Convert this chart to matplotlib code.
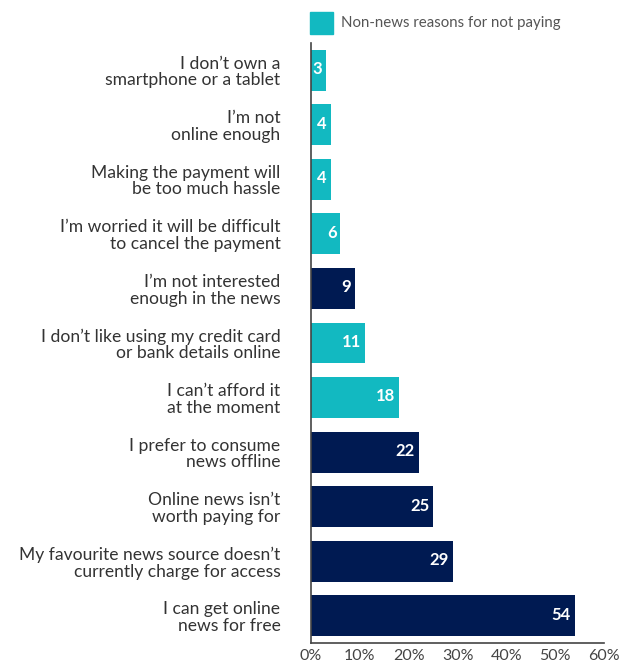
import matplotlib
matplotlib.use("Agg")
import matplotlib.pyplot as plt
from matplotlib.patches import Rectangle

plt.rcParams['font.family'] = ['Lato', 'DejaVu Sans']

# --- data (top to bottom) ---
reasons = [
    "I don\u2019t own a\nsmartphone or a tablet",
    "I\u2019m not\nonline enough",
    "Making the payment will\nbe too much hassle",
    "I\u2019m worried it will be difficult\nto cancel the payment",
    "I\u2019m not interested\nenough in the news",
    "I don\u2019t like using my credit card\nor bank details online",
    "I can\u2019t afford it\nat the moment",
    "I prefer to consume\nnews offline",
    "Online news isn\u2019t\nworth paying for",
    "My favourite news source doesn\u2019t\ncurrently charge for access",
    "I can get online\nnews for free",
]
values = [3, 4, 4, 6, 9, 11, 18, 22, 25, 29, 54]
non_news = [True, True, True, True, False, True, True, False, False, False, False]
ticks = [0, 10, 20, 30, 40, 50, 60]

TEAL = "#12b9c1"
NAVY = "#001a52"

fig = plt.figure(figsize=(6.36, 6.66), dpi=100)
ax = fig.add_axes([0.489, 0.0345, 0.461, 0.901])

n = len(values)
ypos = [n - 1 - i for i in range(n)]
colors = [TEAL if nn else NAVY for nn in non_news]
ax.barh(ypos, values, height=0.75, color=colors, zorder=2)

for y, v in zip(ypos, values):
    ax.text(v - 0.8, y + 0.02, str(v), ha="right", va="center", color="white",
            fontsize=12, fontweight="bold")

ax.set_xlim(0, 60)
ax.set_ylim(-0.5, n - 0.5)
ax.set_yticks(ypos)
ax.set_yticklabels(reasons, fontsize=12.6, color="#333333", linespacing=1.05)
ax.set_xticks(ticks)
ax.set_xticklabels([f"{t}%" for t in ticks], fontsize=11.5, color="#444444")
ax.tick_params(axis="both", length=0)
ax.tick_params(axis="y", pad=22)
ax.tick_params(axis="x", pad=4)

for s in ["top", "right"]:
    ax.spines[s].set_visible(False)
for s in ["left", "bottom"]:
    ax.spines[s].set_color("#444444")
    ax.spines[s].set_linewidth(1.2)

# legend
fig.patches.append(Rectangle((310 / 636, 1 - 34 / 666), 23 / 636, 22 / 666,
                             transform=fig.transFigure, color=TEAL))
fig.text(341 / 636, 1 - 23 / 666, "Non-news reasons for not paying",
         fontsize=10.8, color="#555555", va="center", ha="left")

fig.savefig("out.png", dpi=100)
